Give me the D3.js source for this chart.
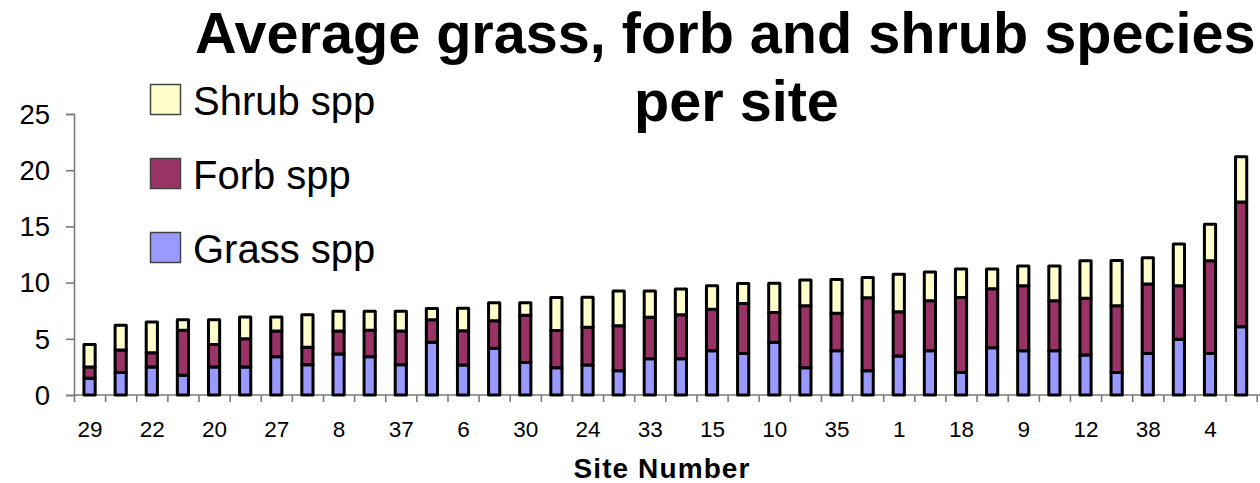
<!DOCTYPE html>
<html>
<head>
<meta charset="utf-8">
<script src="https://cdn.jsdelivr.net/npm/d3@7/dist/d3.min.js"></script>
<style>
  html, body { margin: 0; padding: 0; background: #fff; }
  svg { display: block; }
  text { font-family: "Liberation Sans", Arial, sans-serif; fill: #000; }
</style>
</head>
<body>
<svg id="chart" width="1260" height="483"></svg>
<script>
// Average species counts per site, sites ordered by total richness
const grass = [1.5, 2.0, 2.5, 1.75, 2.5, 2.5, 3.4, 2.7, 3.65, 3.4,
               2.7, 4.7, 2.67, 4.15, 2.9, 2.43, 2.67, 2.16, 3.23, 3.23,
               3.94, 3.7, 4.7, 2.43, 3.94, 2.16, 3.47, 3.94, 2.0, 4.2,
               3.94, 3.94, 3.56, 2.0, 3.7, 4.95, 3.7, 6.08];
const forb  = [1.0, 2.0, 1.25, 4.0, 2.0, 2.5, 2.3, 1.55, 2.05, 2.35,
               3.0, 2.0, 3.05, 2.45, 4.2, 3.3, 3.35, 4.0, 3.68, 3.9,
               3.68, 4.43, 2.65, 5.5, 3.33, 6.5, 3.94, 4.45, 6.67, 5.25,
               5.79, 4.45, 5.04, 5.93, 6.17, 4.78, 8.24, 11.09];
const shrub = [2.0, 2.2, 2.75, 0.95, 2.2, 1.95, 1.25, 2.9, 1.75, 1.7,
               1.75, 1.0, 2.0, 1.6, 1.1, 2.95, 2.67, 3.1, 2.34, 2.3,
               2.1, 1.8, 2.6, 2.3, 3.0, 1.8, 3.33, 2.55, 2.55, 1.75,
               1.75, 3.09, 3.35, 4.03, 2.34, 3.7, 3.26, 4.03];
// Site numbers printed under every other bar
const siteLabels = ["29", "22", "20", "27", "8", "37", "6", "30", "24", "33",
                    "15", "10", "35", "1", "18", "9", "12", "38", "4"];
const yTicks = [0, 5, 10, 15, 20, 25];
const seriesNames = ["Grass spp", "Forb spp", "Shrub spp"];
const seriesColors = ["#9999FF", "#993366", "#FFFFCC"];

const svg = d3.select("#chart");
const nBars = grass.length;

const plot = { left: 74, right: 1256.7, top: 114, bottom: 395 };

const y = d3.scaleLinear().domain([0, 25]).range([plot.bottom, plot.top]);
// continuous position scale: bar i occupies [i, i+1]
const xPos = d3.scaleLinear().domain([0, nBars]).range([plot.left, plot.right]);
const slot = xPos(1) - xPos(0);
const barW = slot * 0.36;

// stacked layout
const rows = d3.range(nBars).map(i => ({ i, g: grass[i], f: forb[i], s: shrub[i] }));
const stack = d3.stack().keys(["g", "f", "s"]);
const layers = stack(rows);

// y axis
const yAxis = svg.append("g")
  .attr("transform", `translate(${plot.left},0)`)
  .call(d3.axisLeft(y).tickValues(yTicks).tickSize(8).tickPadding(16).tickFormat(d3.format("d")));
yAxis.select(".domain").attr("stroke", "#7a7a7a").attr("stroke-width", 1.6);
yAxis.selectAll(".tick line").attr("stroke", "#7a7a7a").attr("stroke-width", 1.6);
yAxis.selectAll(".tick text")
  .style("font-family", '"Liberation Sans", Arial, sans-serif')
  .style("font-size", "27.5px").attr("fill", "#000").attr("dy", "0.34em");

// x axis: ticks on slot boundaries
const xAxis = svg.append("g")
  .attr("transform", `translate(0,${plot.bottom})`)
  .call(d3.axisBottom(xPos).tickValues(d3.range(nBars + 1)).tickSize(7).tickFormat(""));
xAxis.select(".domain").attr("stroke", "#7a7a7a").attr("stroke-width", 1.6)
  .attr("d", `M${plot.left},0H1260`);
xAxis.selectAll(".tick line").attr("stroke", "#7a7a7a").attr("stroke-width", 1.6);

// x labels centred under every other bar
const labelAxis = svg.append("g")
  .attr("transform", `translate(0,${plot.bottom})`)
  .call(d3.axisBottom(xPos)
    .tickValues(siteLabels.map((_, k) => 2 * k + 0.5))
    .tickSize(0)
    .tickFormat((d, k) => siteLabels[k]));
labelAxis.select(".domain").remove();
labelAxis.selectAll(".tick text")
  .style("font-family", '"Liberation Sans", Arial, sans-serif')
  .style("font-size", "22.5px").attr("fill", "#000")
  .attr("y", 42).attr("dy", 0);

// bars
svg.append("g").selectAll("g")
  .data(layers)
  .join("g")
  .attr("fill", (d, k) => seriesColors[k])
  .selectAll("rect")
  .data(d => d)
  .join("rect")
  .attr("x", d => xPos(d.data.i + 0.5) - barW / 2)
  .attr("width", barW)
  .attr("y", d => y(d[1]))
  .attr("height", d => y(d[0]) - y(d[1]))
  .attr("stroke", "#000")
  .attr("stroke-width", 3)
  .attr("stroke-linejoin", "round");

// legend (shrub on top, grass at bottom)
const legendRows = [
  { name: seriesNames[2], color: seriesColors[2], top: 84 },
  { name: seriesNames[1], color: seriesColors[1], top: 158 },
  { name: seriesNames[0], color: seriesColors[0], top: 232 }
];
const lg = svg.append("g").selectAll("g").data(legendRows).join("g");
lg.append("rect")
  .attr("x", 150.5).attr("y", d => d.top + 0.5)
  .attr("width", 30).attr("height", 30)
  .attr("fill", d => d.color)
  .attr("stroke", "#444").attr("stroke-width", 1.5);
lg.append("text")
  .attr("x", 193).attr("y", d => d.top + 31)
  .style("font-size", "40px")
  .text(d => d.name);

// title
svg.append("text")
  .attr("x", 195).attr("y", 53)
  .style("font-size", "57.6px").style("font-weight", "bold")
  .text("Average grass, forb and shrub species");
svg.append("text")
  .attr("x", 634).attr("y", 121)
  .style("font-size", "57.6px").style("font-weight", "bold")
  .text("per site");

// x axis title
svg.append("text")
  .attr("x", 662).attr("y", 478)
  .attr("text-anchor", "middle")
  .style("font-size", "28px").style("font-weight", "bold")
  .style("letter-spacing", "1.1px")
  .text("Site Number");
</script>
</body>
</html>
